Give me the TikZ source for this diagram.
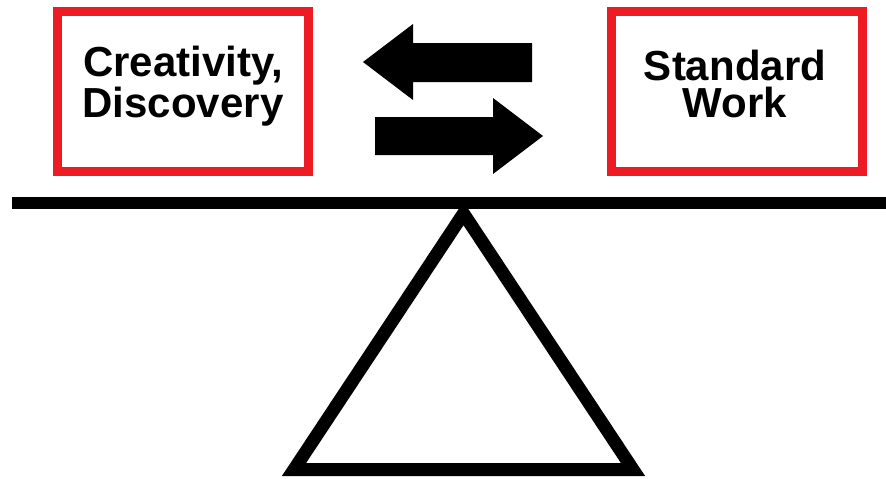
\documentclass[tikz,border=0pt]{standalone}
\usepackage{fontspec}
\setmainfont{Liberation Sans}
\usetikzlibrary{positioning}
\definecolor{boxred}{HTML}{ED1C24}

\begin{document}
\begin{tikzpicture}[
    x=1pt, y=-1pt,
    redbox/.style={
      draw=boxred,
      line width=9pt,
      fill=white,
      minimum width=251pt,
      minimum height=160pt,
      inner sep=0pt,
    },
    label/.style={
      font=\fontsize{42}{37.5}\selectfont\bfseries,
      align=center,
      anchor=base,
      inner sep=0pt,
    },
    blockarrow/.style={fill=black},
    beam/.style={fill=black},
    fulcrum/.style={draw=black, line width=13pt, line join=miter},
  ]
    \useasboundingbox (0,0) rectangle (886,479);
    % boxes
    \node[redbox] (creative) at (183,91.5) {};
    \node[redbox] (standard) at (736.5,91.5) {};
    \node[label] (creativeText) at (183,117) {Creativity,\\Discovery};
    \node[label] (standardText) at (735,117.5) {Standard\\Work};
    % arrows
    \fill[blockarrow] (532,43) -- (413,43) -- (413,24) -- (363,62)
      -- (413,100) -- (413,82) -- (532,82) -- cycle;
    \fill[blockarrow] (375,117) -- (493,117) -- (493,98) -- (543,136)
      -- (493,174) -- (493,155) -- (375,155) -- cycle;
    % seesaw
    \draw[fulcrum] (463.5,213.5) -- (633,469.5) -- (294,469.5) -- cycle;
    \fill[beam] (12,197) rectangle (886,209);
\end{tikzpicture}
\end{document}
